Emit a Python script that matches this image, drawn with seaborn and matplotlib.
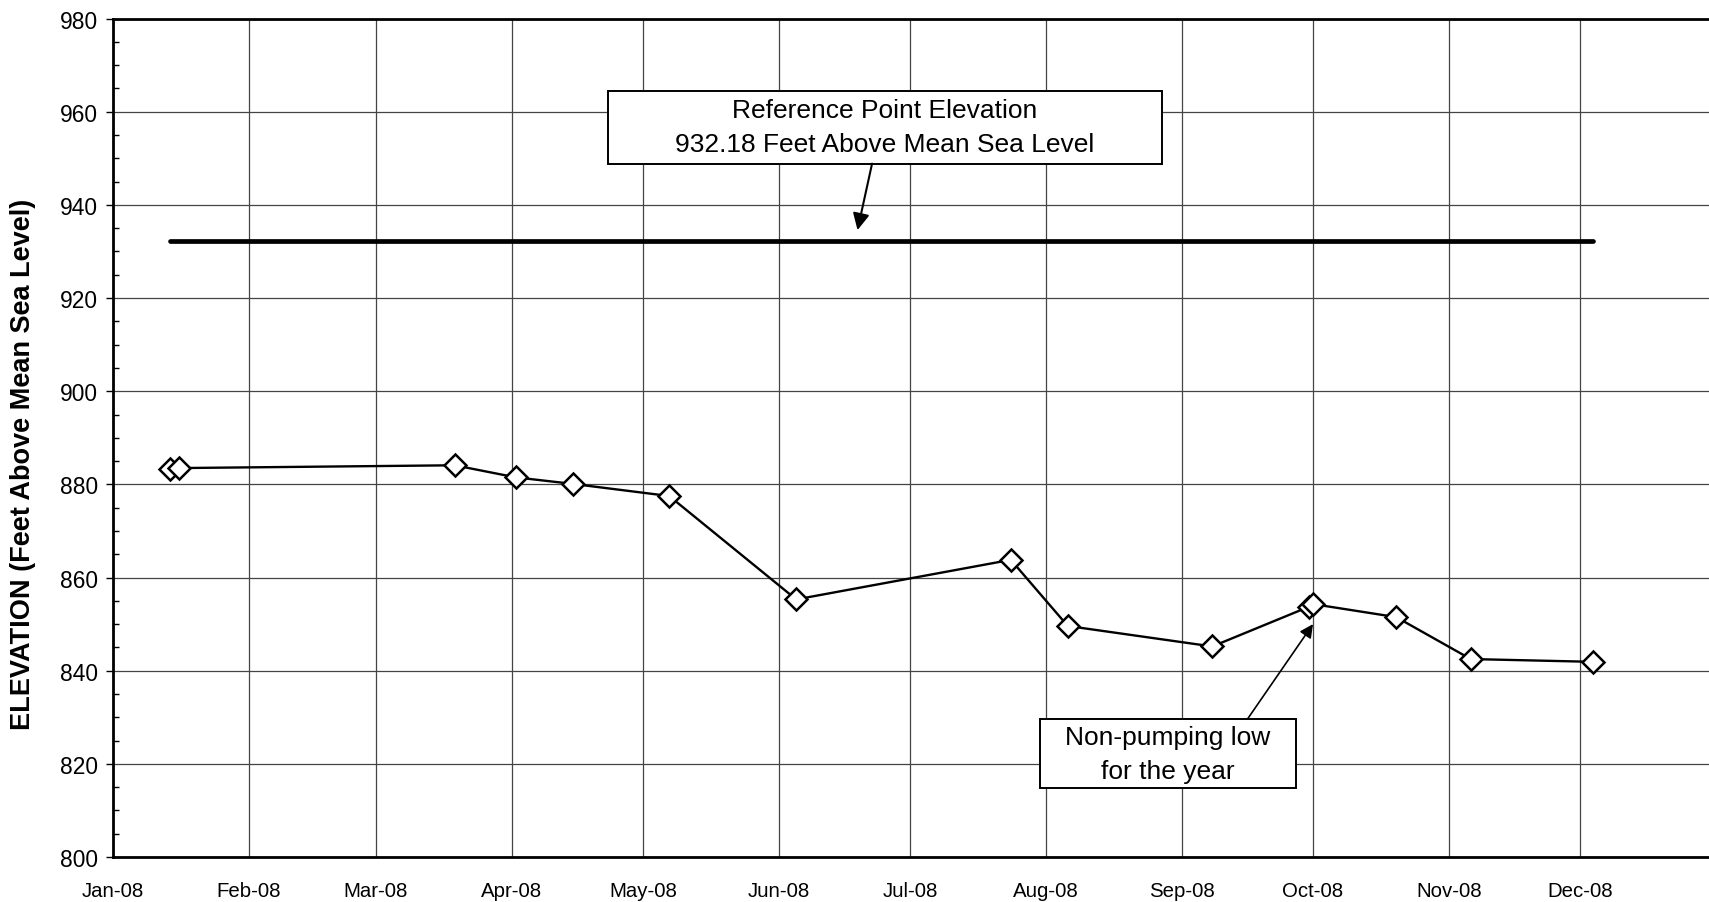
import pandas as pd
import matplotlib.pyplot as plt
import matplotlib.dates as mdates
from matplotlib.patches import Rectangle
import seaborn as sns

# Data
dates = ["2008-01-14", "2008-01-16", "2008-03-19", "2008-04-02", "2008-04-15",
         "2008-05-07", "2008-06-05", "2008-07-24", "2008-08-06", "2008-09-08",
         "2008-09-30", "2008-10-01", "2008-10-20", "2008-11-06", "2008-12-04"]
elevation = [883.3, 883.5, 884.1, 881.5, 880.1,
             877.5, 855.3, 863.8, 849.6, 845.2,
             853.7, 854.3, 851.5, 842.5, 841.9]
ref_elevation = 932.18
ref_label = "Reference Point Elevation\n932.18 Feet Above Mean Sea Level"
low_label = "Non-pumping low\nfor the year"
low_date = "2008-10-01"
low_value = 850.0
ref_arrow_date = "2008-06-19"
ref_arrow_value = 934.6

df = pd.DataFrame({"date": pd.to_datetime(dates), "elevation": elevation})
ref_df = pd.DataFrame({"date": df["date"].iloc[[0, -1]], "elevation": [ref_elevation] * 2})

sns.set_style("white")
plt.rcParams["font.family"] = ["Liberation Sans", "DejaVu Sans"]
plt.rcParams["text.color"] = "black"
plt.rcParams["axes.labelcolor"] = "black"
plt.rcParams["xtick.color"] = "black"
plt.rcParams["ytick.color"] = "black"

fig = plt.figure(figsize=(17.09, 9.03), dpi=100)
ax = fig.add_axes([113 / 1709, 45 / 903, 1596 / 1709, 838.4 / 903])

# Reference point elevation line
sns.lineplot(data=ref_df, x="date", y="elevation", ax=ax, color="black",
             lw=3.4, solid_capstyle="round")

# Water level measurements
sns.lineplot(data=df, x="date", y="elevation", ax=ax, color="black", lw=1.7,
             marker="D", markersize=11, markerfacecolor="white",
             markeredgecolor="black", markeredgewidth=1.8, sort=False)

# Axes
ax.set_ylim(800, 980)
ax.set_xlim(pd.Timestamp("2008-01-01"), pd.Timestamp("2008-12-30 10:00"))
ax.set_yticks(range(800, 981, 20))
ax.set_yticks(range(800, 981, 5), minor=True)
ax.xaxis.set_major_locator(mdates.MonthLocator())
ax.xaxis.set_major_formatter(mdates.DateFormatter("%b-%y"))
ax.grid(True, which="major", color="#444444", lw=0.9)
ax.set_axisbelow(True)

ax.tick_params(axis="y", which="major", direction="out", length=5, width=1,
               labelsize=16.4, pad=6, left=True)
ax.tick_params(axis="y", which="minor", direction="in", length=4, width=1, left=True)
ax.tick_params(axis="x", which="major", length=0, labelsize=14.7, pad=17)

for side in ["left", "bottom", "top"]:
    ax.spines[side].set_linewidth(2)
    ax.spines[side].set_color("black")
ax.spines["right"].set_visible(False)

ax.set_xlabel("")
ax.set_ylabel("ELEVATION (Feet Above Mean Sea Level)", fontsize=19.5, fontweight="bold")
ax.yaxis.set_label_coords(-0.048, 0.469)

# Annotation: reference point elevation
ax.add_patch(Rectangle((0.310, 0.827), 0.347, 0.087, transform=ax.transAxes,
                       facecolor="white", edgecolor="black", lw=1.4, zorder=5))
ax.text(0.4837, 0.8707, ref_label, transform=ax.transAxes, ha="center", va="center",
        fontsize=19, linespacing=1.5, zorder=6)
ax.annotate("", xy=(pd.Timestamp(ref_arrow_date), ref_arrow_value), xycoords="data",
            xytext=(0.4756, 0.827), textcoords="axes fraction",
            arrowprops=dict(arrowstyle="-|>", color="black", lw=1.5,
                            mutation_scale=25, shrinkA=0, shrinkB=0), zorder=6)

# Annotation: non-pumping low
ax.add_patch(Rectangle((0.581, 0.0823), 0.160, 0.0827, transform=ax.transAxes,
                       facecolor="white", edgecolor="black", lw=1.4, zorder=5))
ax.text(0.661, 0.123, low_label, transform=ax.transAxes, ha="center", va="center",
        fontsize=19, linespacing=1.5, zorder=6)
ax.annotate("", xy=(pd.Timestamp(low_date), low_value), xycoords="data",
            xytext=(0.711, 0.165), textcoords="axes fraction",
            arrowprops=dict(arrowstyle="-|>", color="black", lw=1.2,
                            mutation_scale=20, shrinkA=0, shrinkB=0), zorder=6)

fig.savefig("out.png", dpi=100)
